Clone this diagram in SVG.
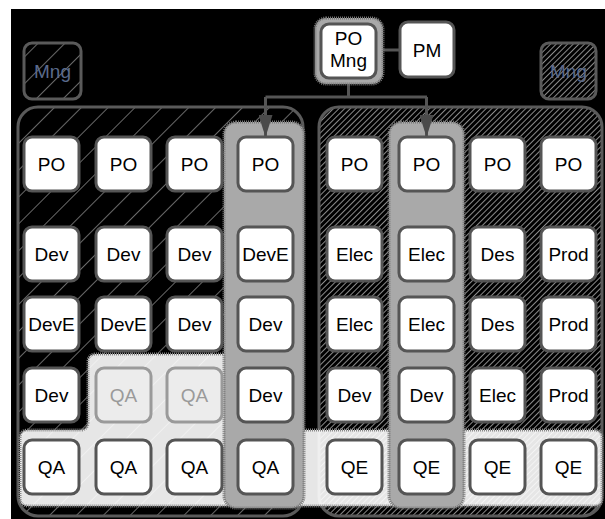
<svg xmlns="http://www.w3.org/2000/svg" width="605" height="519" viewBox="0 0 605 519">
<style>
.n rect{fill:#fff;stroke:#555;stroke-width:3}
.n text{font-family:"Liberation Sans",Arial,sans-serif;font-size:19px;fill:#000;text-anchor:middle}
.g rect{fill:#ececec;stroke:#9a9a9a;stroke-width:3}
.g text{font-family:"Liberation Sans",Arial,sans-serif;font-size:19px;fill:#9a9a9a;text-anchor:middle}
.panel{stroke:#5a5a5a;stroke-width:3}
.band{fill:#a9a9a9;stroke:#777;stroke-width:3;stroke-dasharray:1 1}
.icon text{font-family:"Liberation Sans",Arial,sans-serif;font-size:19px;fill:#5a6a8c;text-anchor:middle}
.conn{fill:none;stroke:#555;stroke-width:3}
</style>
<defs>
<pattern id="sparse" patternUnits="userSpaceOnUse" width="19" height="19" patternTransform="rotate(45)">
<line x1="0" y1="0" x2="0" y2="19" stroke="#d0d0d0" stroke-width="1"/>
</pattern>
<pattern id="dense" patternUnits="userSpaceOnUse" width="4" height="4" patternTransform="rotate(45)">
<line x1="0" y1="0" x2="0" y2="4" stroke="#e8e8e8" stroke-width="1.2"/>
</pattern>
<marker id="arr" markerUnits="userSpaceOnUse" markerWidth="22" markerHeight="14" refX="22" refY="7" orient="auto">
<path d="M0,0 L22,7 L0,14 Z" fill="#4a4a4a"/>
</marker>
</defs>
<rect x="11" y="9" width="594" height="510" fill="#000"/>

<g id="panel-left"><rect class="panel" x="18" y="107" width="285" height="409" rx="20" fill="url(#sparse)"/></g>
<g id="panel-right"><rect class="panel" x="319" y="107" width="283" height="409" rx="20" fill="url(#dense)"/></g>

<g id="qa-band"><path d="M96,354 H240 V430 H594 Q602,430 602,438 V498 Q602,506 594,506 H28 Q20,506 20,498 V438 Q20,430 28,430 H80 Q88,430 88,422 V362 Q88,354 96,354 Z" fill="#fff" fill-opacity="0.9" stroke="#888" stroke-width="3" stroke-dasharray="1 1"/></g>

<g id="col-left"><rect class="band" x="224" y="122" width="80" height="386" rx="12"/></g>
<g id="col-right"><rect class="band" x="389" y="122" width="75" height="386" rx="12"/></g>

<g id="icon-left" class="icon"><rect class="panel" x="24" y="43" width="57" height="56" rx="8" fill="url(#sparse)"/><text x="52.5" y="78">Mng</text></g>
<g id="icon-right" class="icon"><rect class="panel" x="541" y="43" width="55" height="56" rx="8" fill="url(#dense)"/><text x="568.5" y="78">Mng</text></g>

<g id="connectors">
<line class="conn" x1="377" y1="50" x2="400" y2="50"/>
<path class="conn" d="M348.5,79 V97"/>
<path class="conn" d="M265.5,97 H427"/>
<path class="conn" d="M265.5,97 V137" marker-end="url(#arr)"/>
<path class="conn" d="M426.5,97 V137" marker-end="url(#arr)"/>
</g>

<g id="po-mng"><rect x="315" y="18" width="68" height="66" rx="11" class="band" fill="#999"/>
<g class="n"><rect x="321" y="24" width="55" height="54" rx="8"/><text x="348.5" y="45">PO</text><text x="348.5" y="67">Mng</text></g></g>
<g id="pm" class="n"><rect x="400" y="22" width="54" height="55" rx="8"/><text x="427" y="57">PM</text></g>

<g id="r1c1" class="n"><rect x="24" y="137" width="55" height="54" rx="8"/><text x="51.5" y="171">PO</text></g>
<g id="r1c2" class="n"><rect x="96" y="137" width="55" height="54" rx="8"/><text x="123.5" y="171">PO</text></g>
<g id="r1c3" class="n"><rect x="167" y="137" width="55" height="54" rx="8"/><text x="194.5" y="171">PO</text></g>
<g id="r1c4" class="n"><rect x="238" y="137" width="55" height="54" rx="8"/><text x="265.5" y="171">PO</text></g>
<g id="r1c5" class="n"><rect x="327" y="137" width="55" height="54" rx="8"/><text x="354.5" y="171">PO</text></g>
<g id="r1c6" class="n"><rect x="399" y="137" width="55" height="54" rx="8"/><text x="426.5" y="171">PO</text></g>
<g id="r1c7" class="n"><rect x="470" y="137" width="55" height="54" rx="8"/><text x="497.5" y="171">PO</text></g>
<g id="r1c8" class="n"><rect x="541" y="137" width="55" height="54" rx="8"/><text x="568.5" y="171">PO</text></g>

<g id="r2c1" class="n"><rect x="24" y="227" width="55" height="54" rx="8"/><text x="51.5" y="261">Dev</text></g>
<g id="r2c2" class="n"><rect x="96" y="227" width="55" height="54" rx="8"/><text x="123.5" y="261">Dev</text></g>
<g id="r2c3" class="n"><rect x="167" y="227" width="55" height="54" rx="8"/><text x="194.5" y="261">Dev</text></g>
<g id="r2c4" class="n"><rect x="238" y="227" width="55" height="54" rx="8"/><text x="265.5" y="261">DevE</text></g>
<g id="r2c5" class="n"><rect x="327" y="227" width="55" height="54" rx="8"/><text x="354.5" y="261">Elec</text></g>
<g id="r2c6" class="n"><rect x="399" y="227" width="55" height="54" rx="8"/><text x="426.5" y="261">Elec</text></g>
<g id="r2c7" class="n"><rect x="470" y="227" width="55" height="54" rx="8"/><text x="497.5" y="261">Des</text></g>
<g id="r2c8" class="n"><rect x="541" y="227" width="55" height="54" rx="8"/><text x="568.5" y="261">Prod</text></g>

<g id="r3c1" class="n"><rect x="24" y="297" width="55" height="54" rx="8"/><text x="51.5" y="331">DevE</text></g>
<g id="r3c2" class="n"><rect x="96" y="297" width="55" height="54" rx="8"/><text x="123.5" y="331">DevE</text></g>
<g id="r3c3" class="n"><rect x="167" y="297" width="55" height="54" rx="8"/><text x="194.5" y="331">Dev</text></g>
<g id="r3c4" class="n"><rect x="238" y="297" width="55" height="54" rx="8"/><text x="265.5" y="331">Dev</text></g>
<g id="r3c5" class="n"><rect x="327" y="297" width="55" height="54" rx="8"/><text x="354.5" y="331">Elec</text></g>
<g id="r3c6" class="n"><rect x="399" y="297" width="55" height="54" rx="8"/><text x="426.5" y="331">Elec</text></g>
<g id="r3c7" class="n"><rect x="470" y="297" width="55" height="54" rx="8"/><text x="497.5" y="331">Des</text></g>
<g id="r3c8" class="n"><rect x="541" y="297" width="55" height="54" rx="8"/><text x="568.5" y="331">Prod</text></g>

<g id="r4c1" class="n"><rect x="24" y="368" width="55" height="54" rx="8"/><text x="51.5" y="402">Dev</text></g>
<g id="r4c2" class="g"><rect x="96" y="368" width="55" height="54" rx="8"/><text x="123.5" y="402">QA</text></g>
<g id="r4c3" class="g"><rect x="167" y="368" width="55" height="54" rx="8"/><text x="194.5" y="402">QA</text></g>
<g id="r4c4" class="n"><rect x="238" y="368" width="55" height="54" rx="8"/><text x="265.5" y="402">Dev</text></g>
<g id="r4c5" class="n"><rect x="327" y="368" width="55" height="54" rx="8"/><text x="354.5" y="402">Dev</text></g>
<g id="r4c6" class="n"><rect x="399" y="368" width="55" height="54" rx="8"/><text x="426.5" y="402">Dev</text></g>
<g id="r4c7" class="n"><rect x="470" y="368" width="55" height="54" rx="8"/><text x="497.5" y="402">Elec</text></g>
<g id="r4c8" class="n"><rect x="541" y="368" width="55" height="54" rx="8"/><text x="568.5" y="402">Prod</text></g>

<g id="r5c1" class="n"><rect x="24" y="440" width="55" height="54" rx="8"/><text x="51.5" y="474">QA</text></g>
<g id="r5c2" class="n"><rect x="96" y="440" width="55" height="54" rx="8"/><text x="123.5" y="474">QA</text></g>
<g id="r5c3" class="n"><rect x="167" y="440" width="55" height="54" rx="8"/><text x="194.5" y="474">QA</text></g>
<g id="r5c4" class="n"><rect x="238" y="440" width="55" height="54" rx="8"/><text x="265.5" y="474">QA</text></g>
<g id="r5c5" class="n"><rect x="327" y="440" width="55" height="54" rx="8"/><text x="354.5" y="474">QE</text></g>
<g id="r5c6" class="n"><rect x="399" y="440" width="55" height="54" rx="8"/><text x="426.5" y="474">QE</text></g>
<g id="r5c7" class="n"><rect x="470" y="440" width="55" height="54" rx="8"/><text x="497.5" y="474">QE</text></g>
<g id="r5c8" class="n"><rect x="541" y="440" width="55" height="54" rx="8"/><text x="568.5" y="474">QE</text></g>
</svg>
